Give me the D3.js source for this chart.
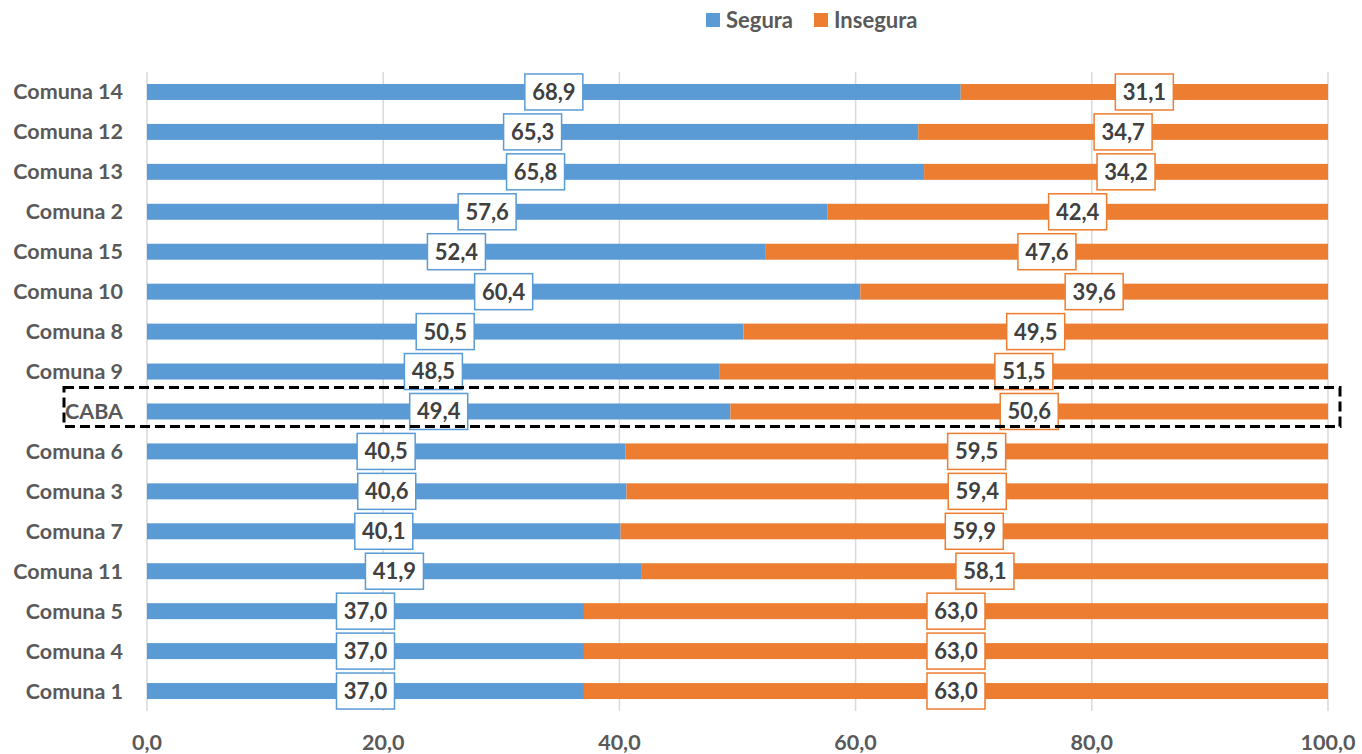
<html>
<head>
  <script src="https://d3js.org/d3.v7.min.js"></script>
  <style>
    body { margin: 0; background: #fff; }
    text { font-family: Lato, "Open Sans", sans-serif; font-weight: bold; }
  </style>
</head>
<body>
  <script>
    var categories = ["Comuna 14", "Comuna 12", "Comuna 13", "Comuna 2", "Comuna 15", "Comuna 10",
      "Comuna 8", "Comuna 9", "CABA", "Comuna 6", "Comuna 3", "Comuna 7", "Comuna 11",
      "Comuna 5", "Comuna 4", "Comuna 1"];
    var segura = [68.9, 65.3, 65.8, 57.6, 52.4, 60.4, 50.5, 48.5, 49.4, 40.5, 40.6, 40.1, 41.9, 37.0, 37.0, 37.0];
    var insegura = [31.1, 34.7, 34.2, 42.4, 47.6, 39.6, 49.5, 51.5, 50.6, 59.5, 59.4, 59.9, 58.1, 63.0, 63.0, 63.0];
    var xTicks = [0, 20, 40, 60, 80, 100];
    var highlight = "CABA";

    var width = 1362, height = 754;
    var blue = "#5B9BD5", orange = "#ED7D31";
    var fmt = function(v){ return v.toFixed(1).replace(".", ","); };

    var svg = d3.select("body").append("svg")
      .attr("width", width).attr("height", height);

    var x = d3.scaleLinear().domain([0, 100]).range([147, 1328]);
    var y = d3.scaleBand().domain(categories).range([72, 711]).paddingInner(0.6).paddingOuter(0.3);

    // gridlines
    svg.append("g").selectAll("line")
      .data(xTicks)
      .enter().append("line")
      .attr("x1", function(d){ return x(d); })
      .attr("x2", function(d){ return x(d); })
      .attr("y1", 72).attr("y2", 711)
      .attr("stroke", "#d9d9d9").attr("stroke-width", 1.5);

    var rows = categories.map(function(c, i){ return { cat: c, s: segura[i], n: insegura[i] }; });

    var bars = svg.append("g");
    bars.selectAll("rect.s").data(rows).enter().append("rect")
      .attr("x", x(0))
      .attr("y", function(d){ return y(d.cat); })
      .attr("width", function(d){ return x(d.s) - x(0); })
      .attr("height", y.bandwidth())
      .attr("fill", blue);
    bars.selectAll("rect.n").data(rows).enter().append("rect")
      .attr("x", function(d){ return x(d.s); })
      .attr("y", function(d){ return y(d.cat); })
      .attr("width", function(d){ return x(d.s + d.n) - x(d.s); })
      .attr("height", y.bandwidth())
      .attr("fill", orange);

    // category labels
    svg.append("g").selectAll("text")
      .data(categories).enter().append("text")
      .attr("x", 123)
      .attr("y", function(d){ return y(d) + y.bandwidth() / 2; })
      .attr("dy", "0.35em")
      .attr("text-anchor", "end")
      .attr("font-size", 21.5)
      .attr("fill", "#595959")
      .text(function(d){ return d; });

    // x tick labels
    svg.append("g").selectAll("text")
      .data(xTicks).enter().append("text")
      .attr("x", function(d){ return x(d); })
      .attr("y", 742)
      .attr("dy", "0.35em")
      .attr("text-anchor", "middle")
      .attr("font-size", 21.5)
      .attr("fill", "#595959")
      .text(function(d){ return fmt(d); });

    // data labels
    function addLabels(data, color) {
      var g = svg.append("g").selectAll("g").data(data).enter().append("g")
        .attr("transform", function(d){
          return "translate(" + x(d.mid) + "," + (y(d.cat) + y.bandwidth() / 2) + ")";
        });
      g.append("rect")
        .attr("x", -29).attr("y", -18).attr("width", 58).attr("height", 36)
        .attr("fill", "#fff").attr("stroke", color).attr("stroke-width", 1.5);
      g.append("text")
        .attr("text-anchor", "middle").attr("dy", "0.36em")
        .attr("font-size", 22).attr("fill", "#404040")
        .text(function(d){ return fmt(d.v); });
    }
    addLabels(rows.map(function(d){ return { cat: d.cat, mid: d.s / 2, v: d.s }; }), blue);
    addLabels(rows.map(function(d){ return { cat: d.cat, mid: d.s + d.n / 2, v: d.n }; }), orange);

    // highlight box
    svg.append("rect")
      .attr("x", 64).attr("y", y(highlight) - 16)
      .attr("width", 1276).attr("height", y.bandwidth() + 23)
      .attr("fill", "none").attr("stroke", "#000")
      .attr("stroke-width", 3).attr("stroke-dasharray", "10,5");

    // legend
    var legend = [{ k: "Segura", c: blue, x: 706 }, { k: "Insegura", c: orange, x: 814 }];
    var lg = svg.append("g").selectAll("g").data(legend).enter().append("g")
      .attr("transform", function(d){ return "translate(" + d.x + ",13)"; });
    lg.append("rect").attr("width", 14).attr("height", 14).attr("fill", function(d){ return d.c; });
    lg.append("text").attr("x", 20).attr("y", 7).attr("dy", "0.36em")
      .attr("font-size", 22).attr("fill", "#595959")
      .text(function(d){ return d.k; });
  </script>
</body>
</html>
